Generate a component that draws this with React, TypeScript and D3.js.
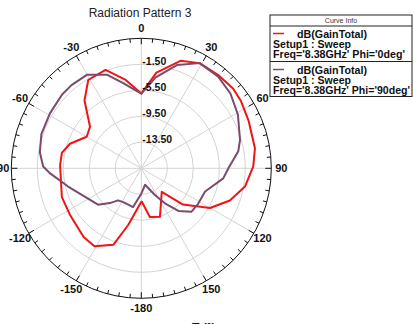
import React from "react";
import { scaleLinear, lineRadial, curveLinearClosed, range } from "d3";

// theta (deg) and dB(GainTotal)
const thetaPhi0 = [-180, -167, -160, -149, -140, -123, -110, -102, -88, -79, -71, -60, -51, -40, -31, -20, -10, 0, 9, 20, 29, 40, 49, 56, 66, 80, 89, 100, 110, 120, 131, 139, 159, 170, 179];
const gainPhi0 = [-12.35, -8.55, -5.0, -3.5, -3.7, -4.4, -4.5, -4.9, -5.0, -5.05, -5.9, -7.8, -7.35, -3.9, -1.65, -1.4, -3.7, -6.0, -2.6, 0.1, 1.0, 1.1, 1.2, 1.0, 0.56, 0.25, -0.27, -1.3, -3.0, -5.3, -9.0, -12.7, -9.5, -9.9, -12.35];

const thetaPhi90 = [-180, -168, -152, -144, -138, -130, -117, -104, -93, -89, -81, -71, -59, -47, -40, -30, -20, -12, 0, 9, 19, 29, 40, 50, 61, 74, 80, 90, 97, 110, 122, 131, 139, 146, 153, 167];
const gainPhi90 = [-13.6, -11.4, -11.6, -11.4, -10.3, -8.8, -7.8, -5.9, -3.4, -2.4, -1.7, -1.25, -1.1, -0.85, -0.8, -0.87, -2.2, -4.1, -6.0, -3.35, -0.7, 1.0, 0.9, 0.4, -0.5, -1.7, -2.35, -4.1, -4.8, -7.05, -7.2, -7.3, -8.8, -11.0, -12.9, -14.9];

const ringValues = [-13.5, -9.5, -5.5, -1.5];
const angleLabels = [0, 30, 60, 90, 120, 150, -180, -150, -120, -90, -60, -30];
const legendItems = [
  { name: "dB(GainTotal)", setup: "Setup1 : Sweep", freq: "Freq='8.38GHz' Phi='0deg'", color: "#f01414" },
  { name: "dB(GainTotal)", setup: "Setup1 : Sweep", freq: "Freq='8.38GHz' Phi='90deg'", color: "#7b4a6c" },
];

const cx = 141.3;
const cy = 168.3;
const R = 130;
const font = "'Liberation Sans', Arial, sans-serif";

export default function App() {
  const rScale = scaleLinear().domain([-17.5, 2.5]).range([0, R]);
  const rad = (d: number) => (d * Math.PI) / 180;

  const line = lineRadial<[number, number]>()
    .angle((d) => rad(d[0]))
    .radius((d) => rScale(d[1]))
    .curve(curveLinearClosed);

  const series = [
    { pts: thetaPhi0.map((t, i) => [t, gainPhi0[i]] as [number, number]), color: legendItems[0].color },
    { pts: thetaPhi90.map((t, i) => [t, gainPhi90[i]] as [number, number]), color: legendItems[1].color },
  ];

  const ticks = range(0, 360, 5);

  return (
    <svg
      width={414}
      height={324}
      style={{ position: "absolute", left: 0, top: 0, background: "#fff" }}
      fontFamily={font}
    >
      <text x={140} y={16.5} textAnchor="middle" fontSize={12} fill="#222">
        Radiation Pattern 3
      </text>

      <g transform={`translate(${cx},${cy})`}>
        {/* spokes */}
        {range(0, 360, 30).map((a) => (
          <line
            key={"s" + a}
            x1={0}
            y1={0}
            x2={R * Math.sin(rad(a))}
            y2={-R * Math.cos(rad(a))}
            stroke="#d4d4d4"
            strokeWidth={1}
          />
        ))}
        {/* rings */}
        {ringValues.map((v) => (
          <circle key={"r" + v} r={rScale(v)} fill="none" stroke="#d4d4d4" strokeWidth={1} />
        ))}
        <circle r={R} fill="none" stroke="#111" strokeWidth={1} />
        {ticks.map((a) => {
          const len = a % 30 === 0 ? 6 : 4;
          const s = Math.sin(rad(a));
          const c = Math.cos(rad(a));
          return (
            <line
              key={"t" + a}
              x1={R * s}
              y1={-R * c}
              x2={(R - len) * s}
              y2={-(R - len) * c}
              stroke="#111"
              strokeWidth={1}
            />
          );
        })}

        {series.map((s, i) => (
          <path key={"p" + i} d={line(s.pts) || ""} fill="none" stroke={s.color} strokeWidth={2} strokeLinejoin="round" />
        ))}

        {ringValues.map((v) => (
          <text key={"rl" + v} x={1} y={-rScale(v) + 1} fontSize={10.5} fontWeight="bold" fill="#111">
            {v.toFixed(2)}
          </text>
        ))}

        {angleLabels.map((a) => (
          <text
            key={"a" + a}
            x={140 * Math.sin(rad(a))}
            y={-140 * Math.cos(rad(a))}
            dy="0.35em"
            textAnchor="middle"
            fontSize={11}
            fontWeight="bold"
            fill="#111"
          >
            {a}
          </text>
        ))}
      </g>

      {/* legend */}
      <g>
        <rect x={270} y={15} width={142} height={81.5} fill="#fff" stroke="#222" strokeWidth={1} />
        <text x={341} y={23} textAnchor="middle" fontSize={7} fill="#333">
          Curve Info
        </text>
        <line x1={270} x2={412} y1={26} y2={26} stroke="#222" strokeWidth={1} />
        <line x1={270} x2={412} y1={61.5} y2={61.5} stroke="#222" strokeWidth={1} />
        {legendItems.map((d, i) => {
          const y0 = i === 0 ? 33.5 : 69.5;
          return (
            <g key={"l" + i} fontWeight="bold" fontSize={10.5} fill="#111">
              <line x1={273} x2={284} y1={y0} y2={y0} stroke={d.color} strokeWidth={1.5} />
              <text x={297} y={y0 + 4} textLength={70} lengthAdjust="spacingAndGlyphs">
                {d.name}
              </text>
              <text x={273} y={y0 + 14.5} textLength={78} lengthAdjust="spacingAndGlyphs">
                {d.setup}
              </text>
              <text x={273} y={y0 + 24.5} textLength={i === 0 ? 132 : 137} lengthAdjust="spacingAndGlyphs">
                {d.freq}
              </text>
            </g>
          );
        })}
      </g>

      <text x={192} y={331.5} fontSize={12} fontWeight="bold" fill="#111">
        T (°)
      </text>
    </svg>
  );
}
